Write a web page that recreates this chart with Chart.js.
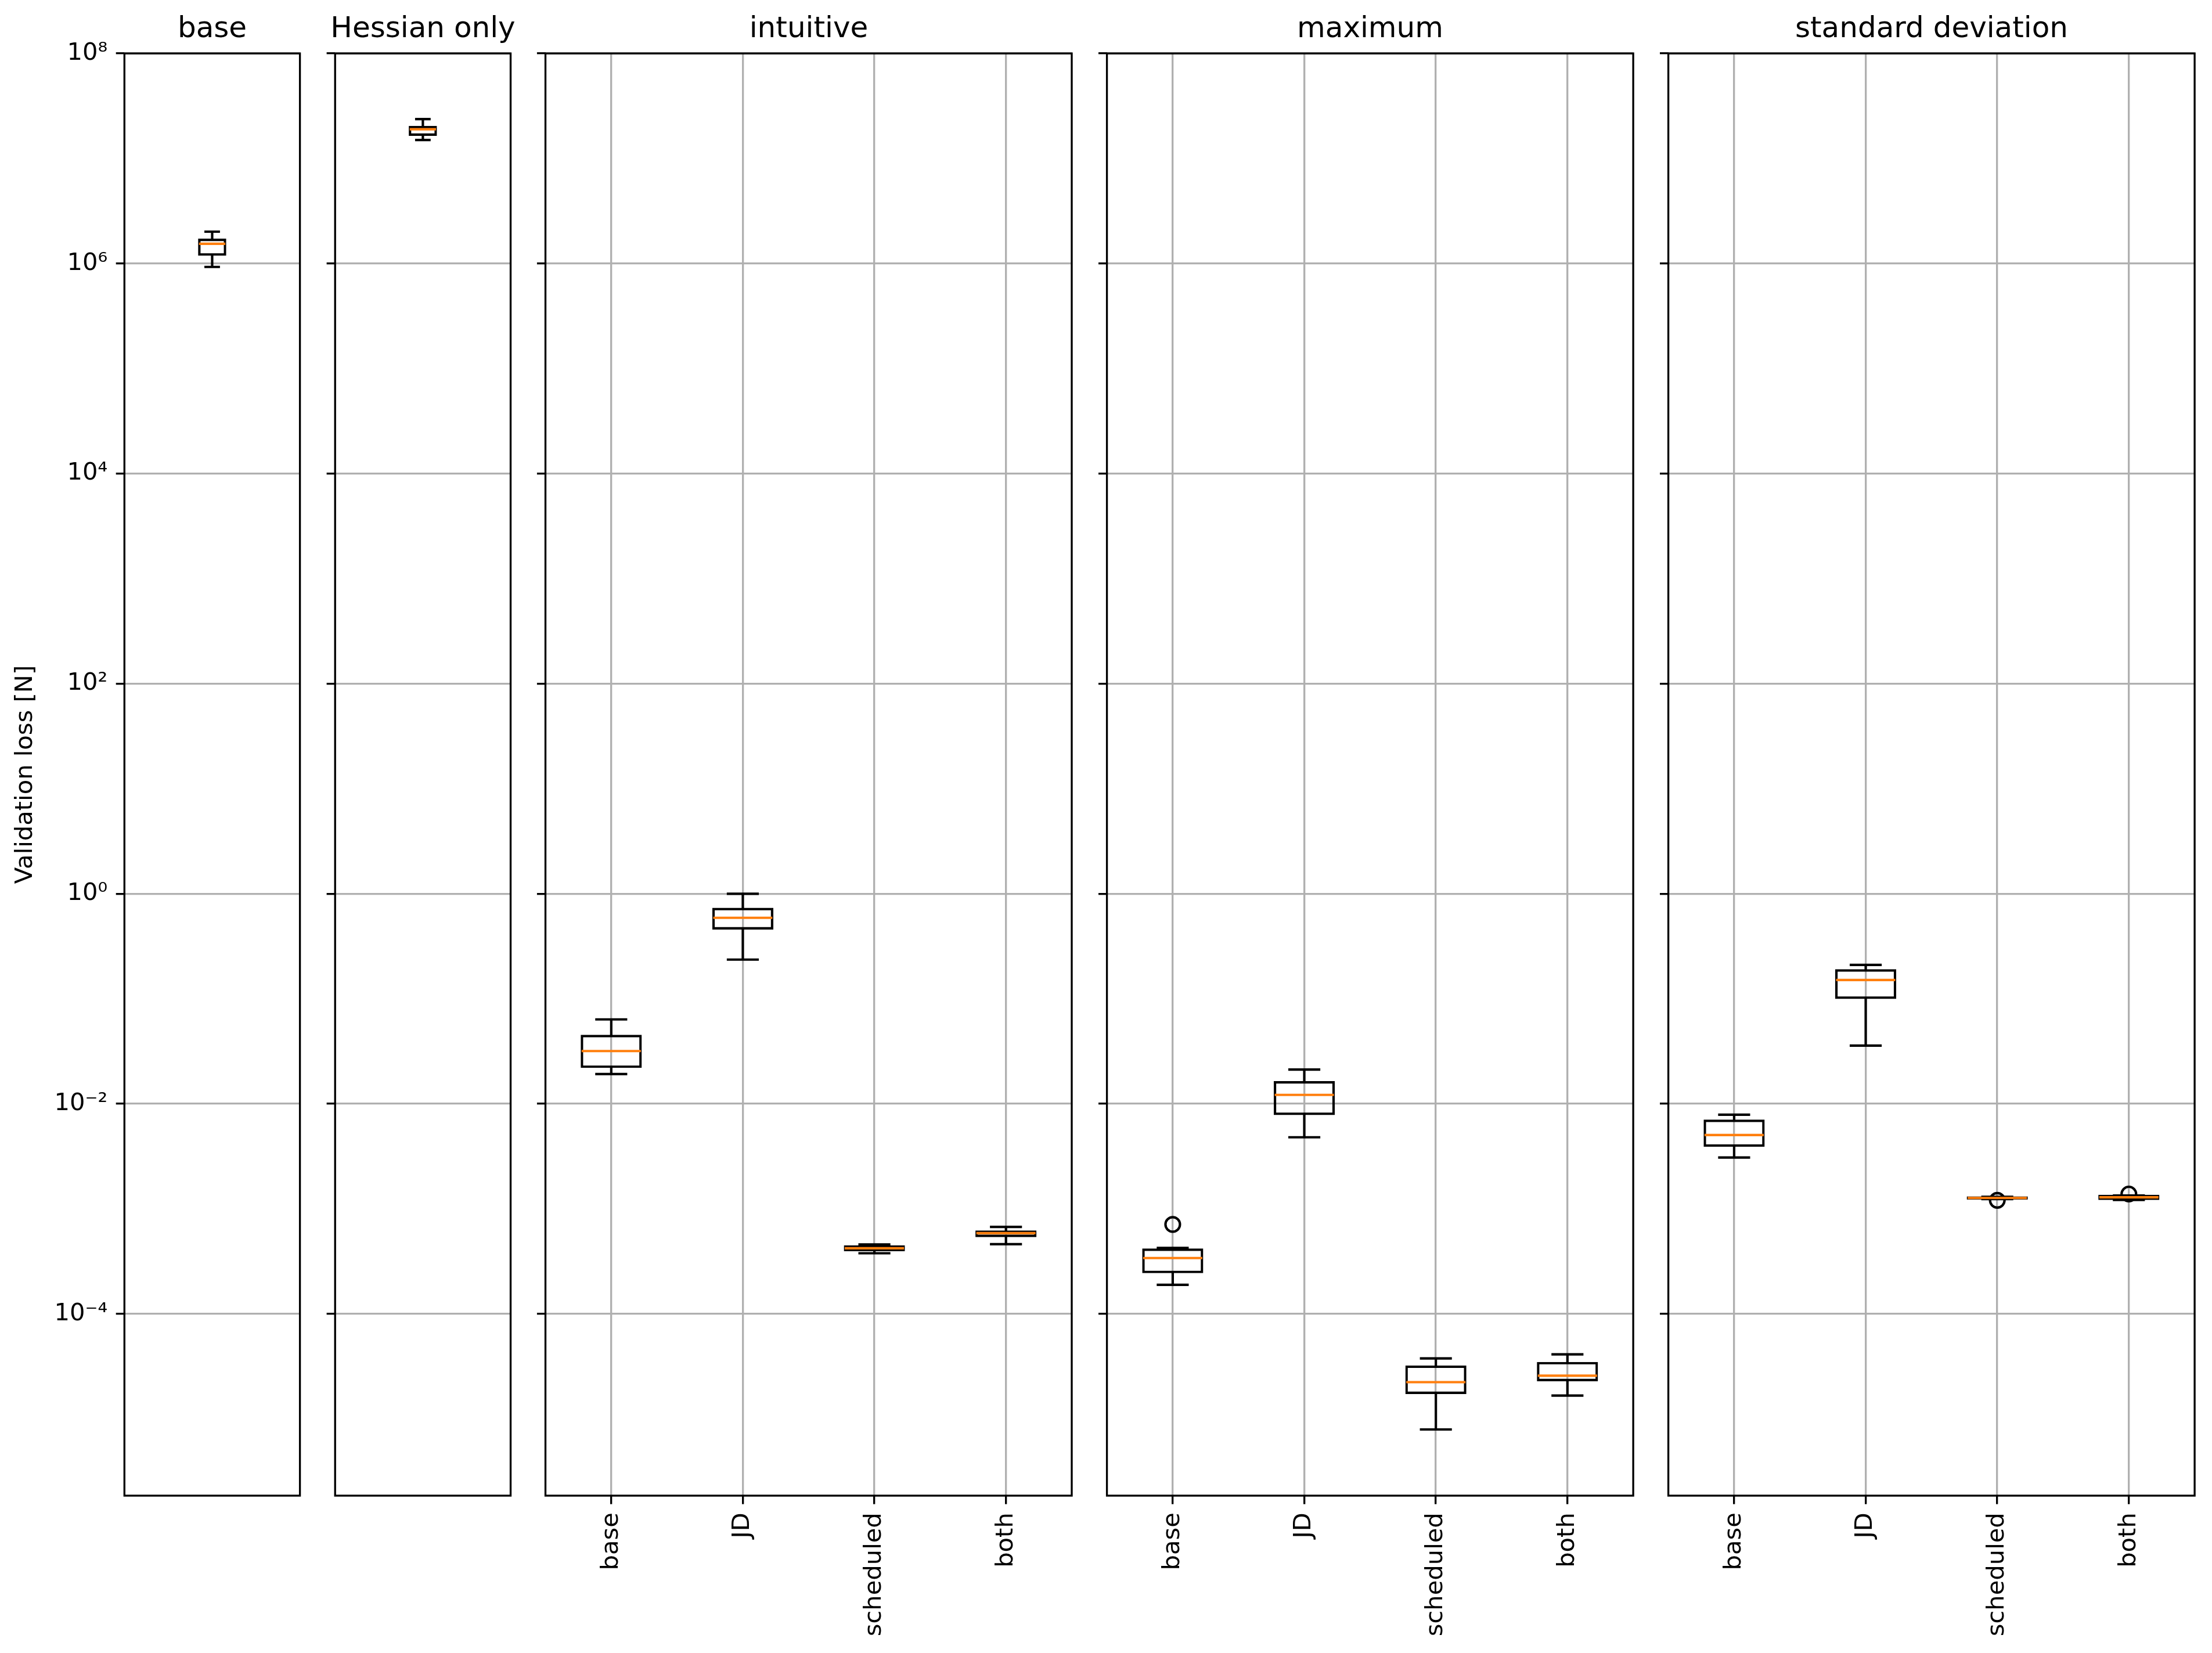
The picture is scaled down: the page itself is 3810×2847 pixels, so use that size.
<!DOCTYPE html>
<html>
<head>
<meta charset="utf-8">
<script src="https://cdn.jsdelivr.net/npm/chart.js@4.4.1/dist/chart.umd.min.js"></script>
<style>
html,body{margin:0;padding:0;background:#fff;width:3810px;height:2847px;overflow:hidden;position:relative}
canvas{position:absolute;top:0}
</style>
</head>
<body>
<script>
// ---------------- data ----------------
const panelTitles = ['base', 'Hessian only', 'intuitive', 'maximum', 'standard deviation'];
const methodLabels = ['base', 'JD', 'scheduled', 'both'];
const singleLabel = [''];
const yTickValues = [1e-4, 1e-2, 1, 1e2, 1e4, 1e6, 1e8];
const yLabel = 'Validation loss [N]';

// panel "base"
const baseLow = [9.27e5];
const baseQ1 = [1.21e6];
const baseMedian = [1.54e6];
const baseQ3 = [1.69e6];
const baseHigh = [2.01e6];
const baseOutliers = [null];

// panel "Hessian only"
const hessianLow = [1.50e7];
const hessianQ1 = [1.676e7];
const hessianMedian = [1.895e7];
const hessianQ3 = [2.00e7];
const hessianHigh = [2.37e7];
const hessianOutliers = [null];

// panel "intuitive"
const intuitiveLow = [0.0192, 0.236, 3.78e-4, 4.61e-4];
const intuitiveQ1 = [0.0224, 0.465, 4.03e-4, 5.49e-4];
const intuitiveMedian = [0.0318, 0.590, 4.22e-4, 5.87e-4];
const intuitiveQ3 = [0.0445, 0.72, 4.39e-4, 6.10e-4];
const intuitiveHigh = [0.0636, 1.0, 4.58e-4, 6.73e-4];
const intuitiveOutliers = [null, null, null, null];

// panel "maximum"
const maximumLow = [1.89e-4, 0.0048, 7.94e-6, 1.67e-5];
const maximumQ1 = [2.49e-4, 0.00798, 1.76e-5, 2.33e-5];
const maximumMedian = [3.40e-4, 0.01216, 2.24e-5, 2.58e-5];
const maximumQ3 = [4.11e-4, 0.0161, 3.16e-5, 3.42e-5];
const maximumHigh = [4.24e-4, 0.0212, 3.77e-5, 4.12e-5];
const maximumOutliers = [7.11e-4, null, null, null];

// panel "standard deviation"
const stdLow = [3.08e-3, 0.0358, 1.24e-3, 1.216e-3];
const stdQ1 = [3.98e-3, 0.1018, 1.25e-3, 1.24e-3];
const stdMedian = [5.05e-3, 0.151, 1.27e-3, 1.288e-3];
const stdQ3 = [6.94e-3, 0.1875, 1.29e-3, 1.333e-3];
const stdHigh = [7.88e-3, 0.210, 1.30e-3, 1.34e-3];
const stdOutliers = [null, null, 1.205e-3, 1.384e-3];

// ---------------- layout / style ----------------
const FONT = 'DejaVu Sans';
const H = 2847;
const AX_TOP = 92, AX_BOTTOM = 2576;
const Y_MIN = 1.86e-6, Y_MAX = 1e8;
const LW = 4.17, SPINE = 3.33, TICK_LEN = 14.6;
const GRID = '#b0b0b0', MEDIAN = '#ff7f0e';

const panels = [
  {title: panelTitles[0], labels: singleLabel, lo: baseLow, q1: baseQ1, med: baseMedian, q3: baseQ3, hi: baseHigh, out: baseOutliers,
   left: 214.3, width: 302.3, side: 214.3, frac: 0.15, showYLabels: true, showX: false},
  {title: panelTitles[1], labels: singleLabel, lo: hessianLow, q1: hessianQ1, med: hessianMedian, q3: hessianQ3, hi: hessianHigh, out: hessianOutliers,
   left: 577.2, width: 302.3, side: 45, frac: 0.15, showYLabels: false, showX: false},
  {title: panelTitles[2], labels: methodLabels, lo: intuitiveLow, q1: intuitiveQ1, med: intuitiveMedian, q3: intuitiveQ3, hi: intuitiveHigh, out: intuitiveOutliers,
   left: 939.5, width: 906.5, side: 45, frac: 0.45, showYLabels: false, showX: true},
  {title: panelTitles[3], labels: methodLabels, lo: maximumLow, q1: maximumQ1, med: maximumMedian, q3: maximumQ3, hi: maximumHigh, out: maximumOutliers,
   left: 1906.6, width: 906.5, side: 45, frac: 0.45, showYLabels: false, showX: true},
  {title: panelTitles[4], labels: methodLabels, lo: stdLow, q1: stdQ1, med: stdMedian, q3: stdQ3, hi: stdHigh, out: stdOutliers,
   left: 2873.6, width: 906.5, side: 45, frac: 0.45, showYLabels: false, showX: true}
];

const SUP = {'0':'⁰','1':'¹','2':'²','3':'³','4':'⁴','5':'⁵','6':'⁶','7':'⁷','8':'⁸','9':'⁹','-':'⁻'};
function powLabel(v) {
  const e = Math.round(Math.log10(v));
  return '10' + String(e).split('').map(c => SUP[c]).join('');
}

Chart.defaults.font.family = FONT;
Chart.defaults.color = '#000';

function makePlugin(p) {
  return {
    id: 'boxParts',
    beforeDatasetsDraw(chart) {
      const {ctx, scales: {x, y}} = chart;
      const cat = x.width / p.q1.length;
      const capHalf = cat * p.frac * 0.25;
      ctx.save();
      ctx.strokeStyle = '#000';
      ctx.lineWidth = LW;
      p.q1.forEach((_, i) => {
        const cx = x.getPixelForValue(i);
        ctx.lineCap = 'butt';
        ctx.beginPath();
        ctx.moveTo(cx, y.getPixelForValue(p.q1[i]));
        ctx.lineTo(cx, y.getPixelForValue(p.lo[i]));
        ctx.moveTo(cx, y.getPixelForValue(p.q3[i]));
        ctx.lineTo(cx, y.getPixelForValue(p.hi[i]));
        ctx.stroke();
        ctx.lineCap = 'square';
        ctx.beginPath();
        const yl = y.getPixelForValue(p.lo[i]);
        const yh = y.getPixelForValue(p.hi[i]);
        ctx.moveTo(cx - capHalf, yl); ctx.lineTo(cx + capHalf, yl);
        ctx.moveTo(cx - capHalf, yh); ctx.lineTo(cx + capHalf, yh);
        ctx.stroke();
      });
      ctx.restore();
    },
    afterDatasetsDraw(chart) {
      const {ctx, scales: {x, y}} = chart;
      const cat = x.width / p.q1.length;
      const half = cat * p.frac / 2;
      ctx.save();
      ctx.strokeStyle = MEDIAN;
      ctx.lineWidth = LW;
      ctx.lineCap = 'butt';
      p.med.forEach((m, i) => {
        const cx = x.getPixelForValue(i);
        const py = y.getPixelForValue(m);
        ctx.beginPath();
        ctx.moveTo(cx - half, py);
        ctx.lineTo(cx + half, py);
        ctx.stroke();
      });
      ctx.restore();
    },
    afterDraw(chart) {
      const {ctx, chartArea: a} = chart;
      ctx.save();
      ctx.strokeStyle = '#000';
      ctx.lineWidth = SPINE;
      ctx.lineJoin = 'miter';
      ctx.strokeRect(a.left, a.top, a.right - a.left, a.bottom - a.top);
      ctx.restore();
    }
  };
}

panels.forEach(p => {
  const canvasLeft = Math.floor(p.left - p.side);
  const yW = p.left - canvasLeft;
  const cw = Math.ceil(2 * yW + p.width);
  const rightW = cw - yW - p.width;
  const cv = document.createElement('canvas');
  cv.width = cw; cv.height = H;
  cv.style.left = canvasLeft + 'px';
  cv.style.width = cw + 'px'; cv.style.height = H + 'px';
  document.body.appendChild(cv);

  const xScale = p.showX ? {
    type: 'category',
    display: true,
    ticks: {autoSkip: false, minRotation: 90, maxRotation: 90, padding: 14.6, color: '#000',
            font: {family: FONT, size: 41.67}},
    grid: {display: true, offset: false, color: GRID, lineWidth: 3.33, drawOnChartArea: true,
           drawTicks: true, tickLength: TICK_LEN, tickColor: '#000', tickWidth: SPINE},
    border: {display: false},
    afterFit: s => { s.height = H - AX_BOTTOM; }
  } : {type: 'category', display: false};

  new Chart(cv, {
    type: 'bar',
    data: {
      labels: p.labels,
      datasets: [
        {
          type: 'line',
          data: p.out,
          showLine: false,
          pointRadius: 12.5,
          pointHoverRadius: 12.5,
          pointBorderWidth: LW,
          pointBorderColor: '#000',
          pointBackgroundColor: 'rgba(0,0,0,0)',
          order: 1
        },
        {
          type: 'bar',
          data: p.q1.map((v, i) => [v, p.q3[i]]),
          backgroundColor: 'rgba(0,0,0,0)',
          borderColor: '#000',
          borderWidth: 1,
          inflateAmount: 1.6,
          borderSkipped: false,
          barPercentage: p.frac,
          categoryPercentage: 1,
          order: 2
        }
      ]
    },
    options: {
      responsive: false,
      animation: false,
      devicePixelRatio: 1,
      events: [],
      layout: {padding: {left: 0, right: 0, top: 0, bottom: p.showX ? 0 : H - AX_BOTTOM}},
      plugins: {
        legend: {display: false},
        tooltip: {enabled: false},
        title: {
          display: true, text: p.title, color: '#000',
          font: {family: FONT, size: 50, weight: 'normal', lineHeight: 1.2},
          padding: {top: 21, bottom: AX_TOP - 21 - 60}
        }
      },
      scales: {
        x: xScale,
        y: {
          type: 'logarithmic',
          position: 'left',
          min: Y_MIN, max: Y_MAX,
          afterBuildTicks: s => { s.ticks = yTickValues.map(v => ({value: v})); },
          ticks: {display: p.showYLabels, autoSkip: false, padding: 14.6, color: '#000',
                  font: {family: FONT, size: 41.67},
                  callback: v => powLabel(v)},
          grid: {display: true, color: GRID, lineWidth: 3.33, drawTicks: true,
                 tickLength: TICK_LEN, tickColor: '#000', tickWidth: SPINE},
          border: {display: false},
          title: {display: p.showYLabels, text: yLabel, color: '#000',
                  font: {family: FONT, size: 41.67}, padding: {top: 19, bottom: 0}},
          afterFit: s => { s.width = yW; }
        },
        y2: {
          type: 'linear',
          position: 'right',
          display: true,
          grid: {display: false, drawTicks: false},
          ticks: {display: false},
          border: {display: false},
          afterFit: s => { s.width = rightW; }
        }
      }
    },
    plugins: [makePlugin(p)]
  });
});
</script>
</body>
</html>
